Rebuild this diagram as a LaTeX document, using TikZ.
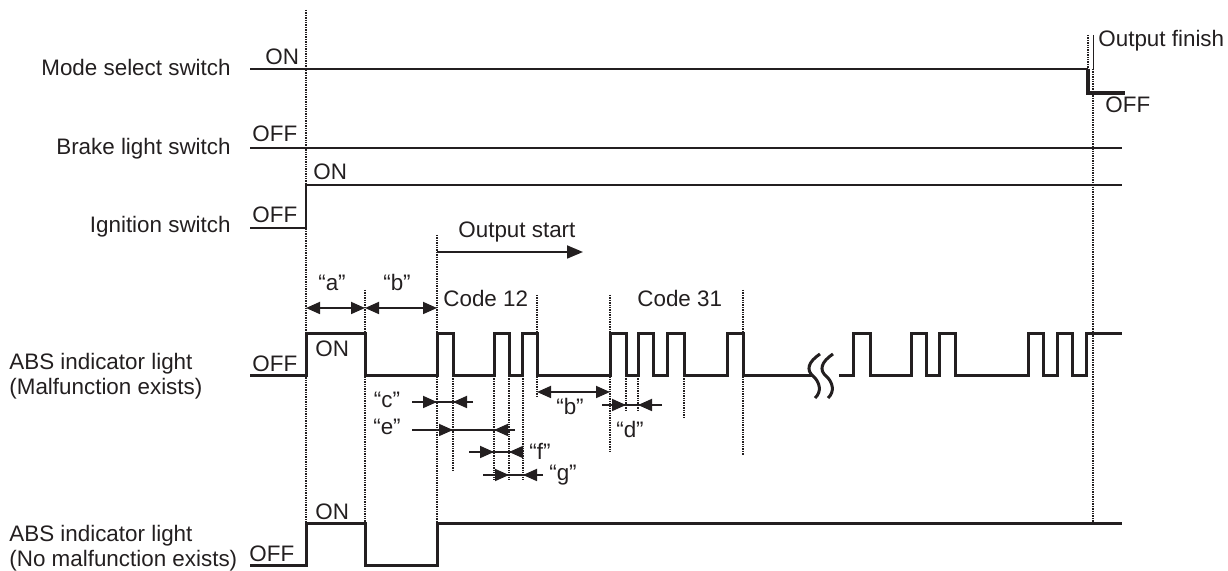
\documentclass[tikz,border=0pt]{standalone}
\usepackage{fontspec}
\setmainfont{Liberation Sans}
\usepackage{tikz}
\usetikzlibrary{arrows.meta}
\definecolor{ink}{RGB}{35,31,32}
\tikzset{
  sig/.style={draw=ink,line width=1.5pt},
  wire/.style={draw=ink,line width=1.1pt},
  guide/.style={draw=ink,line width=1pt,dash pattern=on 0.7pt off 0.5pt},
  dim/.style={draw=ink,line width=0.9pt},
  dimdbl/.style={dim,{Triangle[length=7pt,width=6pt]}-{Triangle[length=7pt,width=6pt]}},
  dimin/.style={dim,-{Triangle[length=7pt,width=6pt]}},
  lbl/.style={font=\fontsize{11.2}{12.5}\selectfont,text=ink,inner sep=0pt},
  rowlbl/.style={lbl,align=left,anchor=west},
}

\begin{document}
\begin{tikzpicture}[x=0.5pt,y=-0.5pt]
  \useasboundingbox (0,0) rectangle (1228,571);
  \node[lbl,anchor=base east] (mode) at (231,76) {Mode select switch};
  \node[lbl,anchor=base east] (brake) at (231,155) {Brake light switch};
  \node[lbl,anchor=base east] (ign) at (231,233) {Ignition switch};
  \node[rowlbl] (absm) at (9,376) {ABS indicator light\\(Malfunction exists)};
  \node[rowlbl] (absn) at (9,548) {ABS indicator light\\(No malfunction exists)};

  \node[lbl,anchor=base west] (onmode) at (265,65) {ON};
  \node[lbl,anchor=base west] (offbrake) at (252,142) {OFF};
  \node[lbl,anchor=base west] (onign) at (313,180) {ON};
  \node[lbl,anchor=base west] (offign) at (252,223) {OFF};
  \node[lbl,anchor=base west] (onabsm) at (315,357) {ON};
  \node[lbl,anchor=base west] (offabsm) at (252,372) {OFF};
  \node[lbl,anchor=base west] (onabsn) at (315,520) {ON};
  \node[lbl,anchor=base west] (offabsn) at (249,562) {OFF};
  \node[lbl,anchor=base west] (finish) at (1098,47) {Output finish};
  \node[lbl,anchor=base west] (offmode) at (1105,113) {OFF};
  \node[lbl,anchor=base west] (start) at (458,238) {Output start};
  \node[lbl,anchor=base west] (code12) at (443,307) {Code 12};
  \node[lbl,anchor=base west] (code31) at (637,307) {Code 31};

  \draw[guide] (306,10) -- (306,524);
  \draw[guide] (365,290) -- (365,524);
  \draw[guide] (437,235) -- (437,524);
  \draw[guide] (453,376) -- (453,470);
  \draw[guide] (494,376) -- (494,480);
  \draw[guide] (509,376) -- (509,480);
  \draw[guide] (523,376) -- (523,480);
  \draw[guide] (537,295) -- (537,397);
  \draw[guide] (610,295) -- (610,453);
  \draw[guide] (626,376) -- (626,410);
  \draw[guide] (638,376) -- (638,410);
  \draw[guide] (684,376) -- (684,418);
  \draw[guide] (743,290) -- (743,455);
  \draw[guide] (1093,69) -- (1093,524);
  \draw[guide] (1088,35) -- (1088,69);
  \draw[ink,line width=0.4pt] (1093,35) -- (1093,69);

  \draw[wire] (250,69) -- (1088,69);
  \draw[sig,line width=1.9pt] (1088,69) |- (1125,93);
  \draw[wire] (250,148) -- (1122,148);
  \draw[wire] (250,228) -| (306,185) -- (1122,185);

  \draw[sig] (250,376) -| (306,334) -| (365,376) -| (437,334) -| (453,376)
    -| (494,334) -| (509,376) -| (522,334) -| (537,376) -| (610,334)
    -| (626,376) -| (638,334) -| (653,376) -| (667,334) -| (684,376)
    -| (727,334) -| (743,376) -- (813,376);
  \draw[sig] (839,376) -| (853,334) -| (870,376) -| (911,334) -| (926,376)
    -| (939,334) -| (955,376) -| (1028,334) -| (1043,376) -| (1057,334)
    -| (1072,376) -| (1086,334) -- (1122,334);
  \draw[sig] (820,354) .. controls (808,362) and (806,370) .. (813,376)
    .. controls (820,382) and (822,392) .. (815,398);
  \draw[sig] (833,354) .. controls (821,362) and (819,370) .. (826,376)
    .. controls (833,382) and (835,392) .. (828,398);
  \draw[sig] (250,566) -| (306,524) -| (365,566) -| (437,524) -- (1122,524);

  \coordinate (os) at (437,252);
  \coordinate (oe) at (583,252);
  \draw[dim,-{Triangle[length=8pt,width=6.5pt]}] (os) -- (oe);

  \coordinate (a0) at (306,308);
  \coordinate (a1) at (365,308);
  \coordinate (a2) at (437,308);
  \draw[dimdbl] (a0) -- (a1);
  \draw[dimdbl] (a1) -- (a2);
  \node[lbl,anchor=base] (qa) at (332,291) {“a”};
  \node[lbl,anchor=base] (qb) at (397,291) {“b”};

  \coordinate (b0) at (537,392);
  \coordinate (b1) at (610,392);
  \draw[dimdbl] (b0) -- (b1);
  \node[lbl,anchor=base] (qb2) at (570,415) {“b”};

  \coordinate (c0) at (412,402);
  \coordinate (c1) at (437,402);
  \coordinate (c2) at (453,402);
  \coordinate (c3) at (473,402);
  \draw[dim] (c0) -- (c3);
  \draw[dimin] (c0) -- (c1);
  \draw[dimin] (c3) -- (c2);
  \node[lbl,anchor=base] (qc) at (387,408) {“c”};

  \coordinate (e0) at (412,430);
  \coordinate (e1) at (453,430);
  \coordinate (e2) at (494,430);
  \coordinate (e3) at (515,430);
  \draw[dim] (e0) -- (e3);
  \draw[dimin] (e0) -- (e1);
  \draw[dimin] (e3) -- (e2);
  \node[lbl,anchor=base] (qe) at (387,435) {“e”};

  \coordinate (f0) at (469,452);
  \coordinate (f1) at (494,452);
  \coordinate (f2) at (509,452);
  \coordinate (f3) at (520,452);
  \draw[dim] (f0) -- (f3);
  \draw[dimin] (f0) -- (f1);
  \draw[dimin] (f3) -- (f2);
  \node[lbl,anchor=base] (qf) at (540,460) {“f”};

  \coordinate (g0) at (483,475);
  \coordinate (g1) at (509,475);
  \coordinate (g2) at (523,475);
  \coordinate (g3) at (543,475);
  \draw[dim] (g0) -- (g3);
  \draw[dimin] (g0) -- (g1);
  \draw[dimin] (g3) -- (g2);
  \node[lbl,anchor=base] (qg) at (563,481) {“g”};

  \coordinate (d0) at (602,405);
  \coordinate (d1) at (626,405);
  \coordinate (d2) at (638,405);
  \coordinate (d3) at (662,405);
  \draw[dim] (d0) -- (d3);
  \draw[dimin] (d0) -- (d1);
  \draw[dimin] (d3) -- (d2);
  \node[lbl,anchor=base] (qd) at (630,438) {“d”};
\end{tikzpicture}
\end{document}
